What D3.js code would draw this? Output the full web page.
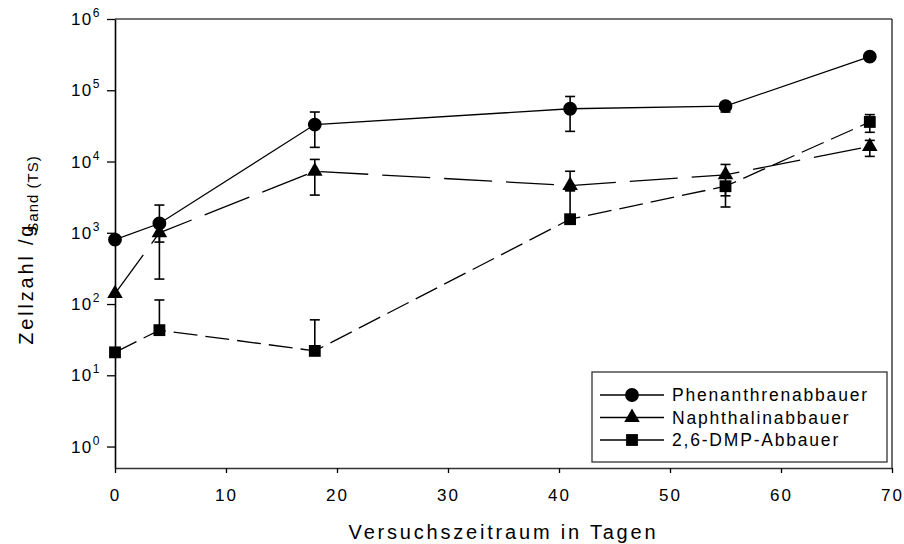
<!DOCTYPE html>
<html>
<head>
<meta charset="utf-8">
<script src="https://cdn.jsdelivr.net/npm/d3@7"></script>
<style>
  html, body { margin: 0; padding: 0; background: #fff; }
  svg { display: block; font-family: "Liberation Sans", Arial, sans-serif; }
</style>
</head>
<body>
<svg id="chart" width="904" height="544"></svg>
<script>
// Sampling days
const days = [0, 4, 18, 41, 55, 68];

// Cell counts per gram of dry sand, mean values
const phenanthren = [800, 1350, 33000, 55000, 60000, 296000];
const naphthalin  = [140, 1000, 7300, 4600, 6500, 16300];
const dmp         = [21, 43, 22, 1550, 4500, 35900];

// Error bar bounds (null = not drawn)
const phenLow  = [null, 740, 15800, 26500, 49500, null];
const phenHigh = [null, 2450, 49500, 81800, null, null];
const naphLow  = [null, 224, 3380, 3900, 3300, 11800];
const naphHigh = [null, null, 10700, 7300, 9100, 19800];
const dmpLow   = [null, null, null, null, 2300, 25700];
const dmpHigh  = [null, 114, 60, 3900, null, 45500];

// Axis ticks
const xTicks = [0, 10, 20, 30, 40, 50, 60, 70];
const yExponents = [0, 1, 2, 3, 4, 5, 6];

const seriesNames = ["Phenanthrenabbauer", "Naphthalinabbauer", "2,6-DMP-Abbauer"];

const series = [
  { name: seriesNames[0], values: phenanthren, low: phenLow, high: phenHigh, symbol: d3.symbolCircle, size: 150, dash: null },
  { name: seriesNames[1], values: naphthalin, low: naphLow, high: naphHigh, symbol: d3.symbolTriangle, size: 105, dash: "48,14" },
  { name: seriesNames[2], values: dmp, low: dmpLow, high: dmpHigh, symbol: d3.symbolSquare, size: 140, dash: "24,8" }
];

const svg = d3.select("#chart");
const plotLeft = 115, plotRight = 892, plotTop = 19, plotBottom = 468;

const x = d3.scaleLinear().domain([0, 70]).range([plotLeft, plotRight]);
const y = d3.scaleLog().domain([0.5, 1e6]).range([plotBottom, plotTop]);

// Frame: top and right edges
svg.append("line").attr("x1", plotLeft).attr("x2", plotRight).attr("y1", plotTop).attr("y2", plotTop)
  .attr("stroke", "#444").attr("stroke-width", 1.3);
svg.append("line").attr("x1", plotRight).attr("x2", plotRight).attr("y1", plotTop).attr("y2", plotBottom)
  .attr("stroke", "#222").attr("stroke-width", 1.3);

// X axis
const xAxis = svg.append("g").attr("transform", `translate(0,${plotBottom})`)
  .call(d3.axisBottom(x).tickValues(xTicks).tickSize(5).tickSizeOuter(0).tickFormat(d3.format("d")));
xAxis.select(".domain").attr("stroke", "#333").attr("stroke-width", 1.6);
xAxis.selectAll(".tick line").attr("stroke", "#000").attr("stroke-width", 1.3);
xAxis.selectAll(".tick text").attr("font-size", 17).attr("letter-spacing", 2)
  .attr("font-family", "Liberation Sans, Arial, sans-serif").attr("fill", "#000")
  .attr("y", 8).attr("dy", "1.45em");

// Y axis with power-of-ten labels
const yAxis = svg.append("g").attr("transform", `translate(${plotLeft},0)`)
  .call(d3.axisLeft(y).tickValues(yExponents.map(e => Math.pow(10, e))).tickSize(8).tickSizeOuter(0).tickFormat(""));
yAxis.select(".domain").attr("stroke", "#000").attr("stroke-width", 1.6);
yAxis.selectAll(".tick line").attr("stroke", "#000").attr("stroke-width", 1.3);

const yLabels = svg.append("g");
yExponents.forEach(e => {
  const t = yLabels.append("text")
    .attr("x", 101).attr("y", y(Math.pow(10, e)) + 6)
    .attr("text-anchor", "end").attr("font-size", 17).attr("letter-spacing", 1.5);
  t.append("tspan").text("10");
  t.append("tspan").attr("font-size", 12).attr("dy", -8).text(String(e));
});

// Axis titles
svg.append("text")
  .attr("x", (plotLeft + plotRight) / 2).attr("y", 539)
  .attr("text-anchor", "middle").attr("font-size", 20).attr("letter-spacing", 2.8)
  .text("Versuchszeitraum in Tagen");

const yTitle = svg.append("text")
  .attr("transform", `translate(33,250) rotate(-90)`)
  .attr("text-anchor", "middle").attr("font-size", 20).attr("letter-spacing", 2.8);
yTitle.append("tspan").text("Zellzahl /g");
yTitle.append("tspan").attr("font-size", 15).attr("dx", -10).attr("dy", 5).attr("letter-spacing", 1).text("Sand (TS)");

const line = d3.line().x((d, i) => x(days[i])).y(d => y(d));
const plot = svg.append("g");

// Connecting lines
series.forEach(s => {
  plot.append("path").datum(s.values)
    .attr("d", line).attr("fill", "none").attr("stroke", "#000")
    .attr("stroke-width", 1.3).attr("stroke-dasharray", s.dash);
});

// Error bars
series.forEach(s => {
  days.forEach((d, i) => {
    const cx = x(d), cy = y(s.values[i]);
    [s.low[i], s.high[i]].forEach(b => {
      if (b == null) return;
      const by = y(b);
      plot.append("line").attr("x1", cx).attr("x2", cx).attr("y1", cy).attr("y2", by)
        .attr("stroke", "#000").attr("stroke-width", 1.6);
      plot.append("line").attr("x1", cx - 5).attr("x2", cx + 5).attr("y1", by).attr("y2", by)
        .attr("stroke", "#000").attr("stroke-width", 1.6);
    });
  });
});

// Markers
series.forEach(s => {
  const sym = d3.symbol().type(s.symbol).size(s.size);
  plot.selectAll(null).data(s.values).enter().append("path")
    .attr("d", sym)
    .attr("transform", (d, i) => `translate(${x(days[i])},${y(d)})`)
    .attr("fill", "#000");
});

// Legend
const lg = { x0: 592, y0: 372, x1: 887, y1: 462 };
svg.append("rect").attr("x", lg.x0).attr("y", lg.y0).attr("width", lg.x1 - lg.x0).attr("height", lg.y1 - lg.y0)
  .attr("fill", "#fff").attr("stroke", "#333").attr("stroke-width", 1.3);
series.forEach((s, i) => {
  const cy = 395 + i * 22.5;
  const g = svg.append("g");
  g.append("line").attr("x1", lg.x0 + 8).attr("x2", lg.x0 + 72).attr("y1", cy).attr("y2", cy)
    .attr("stroke", "#000").attr("stroke-width", 1.3);
  g.append("path").attr("d", d3.symbol().type(s.symbol).size(s.size)())
    .attr("transform", `translate(${lg.x0 + 40},${cy})`).attr("fill", "#000");
  g.append("text").attr("x", lg.x0 + 80).attr("y", cy + 6)
    .attr("font-size", 17.5).attr("letter-spacing", 1.8).text(s.name);
});
</script>
</body>
</html>
